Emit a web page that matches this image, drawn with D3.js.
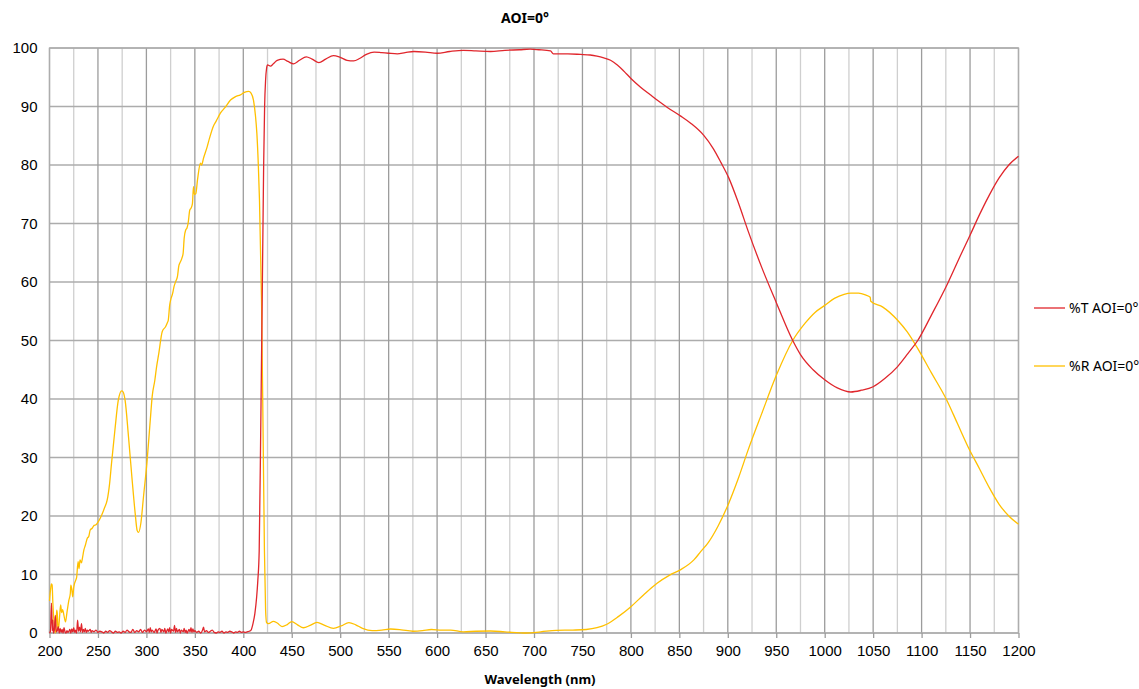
<!DOCTYPE html>
<html>
<head>
<meta charset="utf-8">
<script src="https://cdn.jsdelivr.net/npm/d3@7"></script>
<style>
  html, body { margin: 0; padding: 0; background: #fff; }
  svg { display: block; font-family: "Noto Sans", "Open Sans", sans-serif; }
  .tick text { fill: #000; }
</style>
</head>
<body>
<svg id="chart" width="1139" height="689"></svg>
<script>
// ── data ──────────────────────────────────────────────────────
const xTicks = [200, 250, 300, 350, 400, 450, 500, 550, 600, 650, 700, 750, 800, 850, 900, 950, 1000, 1050, 1100, 1150, 1200];
const yTicks = [0, 10, 20, 30, 40, 50, 60, 70, 80, 90, 100];
const seriesNames = ["%T AOI=0°", "%R AOI=0°"];

// %T : [wavelength nm, percent]
const transmission = [
  [200,0],[201,0.3],[202,5.1],[203,0.4],[203.5,2.2],[204,0],[205,0.5],[206,3.0],[207,0.2],[208,0.4],[209,1.1],[210,0],
  [211,0.8],[212,0.1],[213,0.6],[214,0],[215,0.9],[216,0.2],[217,0],[218,0.4],[219,0.1],[220,0.3],[221,0.6],[222,0],
  [223,0.7],[224,0.2],[225,0.9],[226,0.1],[227,0.5],[228,0],[229,2.2],[230,0.3],[231,1.0],[232,0.2],[233,1.6],[234,0.1],
  [235,0.6],[236,0.2],[237,0.8],[238,0.1],[239,0.5],[240,0.3],[242,0.6],[243,0.1],[244,0.4],[246,0.2],[248,0.5],[250,0.1],
  [252,0.3],[254,0.2],[256,0],[258,0.3],[260,0.1],[262,0.4],[264,0.2],[266,0],[268,0.3],[270,0.1],[272,0.2],[274,0],
  [276,0.3],[278,0.1],[280,0.5],[282,0.2],[284,0.1],[286,0.6],[288,0.1],[290,0.4],[292,0.2],[294,0.6],[296,0.1],[298,0.5],
  [300,0.2],[302,0.7],[303,0.1],[304,0.9],[305,0.2],[306,0.5],[308,0.1],[310,0.7],[311,0],[312,0.5],[314,0.8],[315,0.1],
  [316,0.6],[318,0.2],[319,0.8],[320,0],[322,0.7],[323,0.2],[324,0.9],[325,0],[326,0.6],[328,0.3],[329,1.3],[330,0.1],
  [331,0.8],[332,0.2],[334,0.6],[335,0],[336,0.5],[338,0.2],[339,0.8],[340,0.1],[341,0.5],[342,0],[344,0.6],[345,0.2],
  [346,0.9],[347,0.1],[348,0.7],[349,0.2],[350,0.4],[352,0.1],[354,0.3],[356,0],[358,0.5],[359,1.0],[360,0.2],[362,0.4],
  [364,0.1],[366,0.3],[368,0.5],[370,0.1],[372,0],[374,0.2],[376,0.1],[378,0.3],[380,0],[382,0.2],[384,0.1],[386,0.3],
  [388,0.2],[390,0],[392,0.2],[394,0.1],[396,0.3],[398,0.1],[400,0.2],[402,0.1],[404,0.2],[406,0.3],[408,0.5],[410,1.6],
  [412,3.4],[413.8,6.2],[415,9],[416.4,14],[418,35],[419.5,57],[421,80],[422,90],[423,94.5],[424,96.5],[425,97.1],
  [428,96.9],[431,97.3],[435,97.9],[441,98.1],[446,97.7],[452,97.3],[458,97.9],[465,98.5],[471,98.1],[478,97.5],
  [485,98.1],[493,98.7],[500,98.4],[507,97.9],[514,97.8],[520,98.2],[527,98.9],[535,99.3],[543,99.2],[550,99.1],
  [559,99.0],[567,99.2],[576,99.4],[588,99.3],[600,99.1],[613,99.4],[627,99.6],[640,99.5],[655,99.4],[670,99.6],
  [685,99.7],[696,99.8],[705,99.7],[717,99.5],[720,99.0],[735,99.0],[748,98.9],[758,98.8],[765,98.6],[772,98.3],
  [779,97.9],[786,97.1],[793,96.0],[800,94.8],[810,93.3],[820,92.0],[827,91.1],[838,89.8],[851,88.4],[862,87.1],
  [875,85.1],[885,82.8],[893,80.4],[901,77.8],[911,73.5],[921,68.7],[935,62.5],[950,56.5],[967,50],[975,47.6],
  [988,45],[1000,43.3],[1013,41.9],[1027,41.2],[1038,41.5],[1050,42.1],[1062,43.5],[1075,45.5],[1086,47.8],
  [1096,50],[1110,54.3],[1127,59.8],[1140,64.5],[1150,68.0],[1160,71.6],[1170,74.9],[1180,77.8],[1190,80.0],[1200,81.5]
];

// %R : [wavelength nm, percent]
const reflection = [
  [200,5.5],[201,7.3],[202,8.4],[202.7,8.2],[203.5,5],[204,3.4],[205,1.5],[206,0],[207,2.5],[207.5,3.9],[208,3.4],
  [208.7,0.5],[209.5,1.0],[210.5,3.0],[211.5,4.8],[212.5,3.5],[213.5,4.0],[214.8,3.1],[216.5,1.9],[218,3.5],[220,5.6],
  [221.5,6.8],[222,8.2],[223,7.5],[224,6.2],[225,7.8],[227,9.0],[228,9.5],[229.5,12.2],[230.5,11.0],[231.5,12.5],
  [233,12.0],[234,12.8],[235.5,14.2],[237,15],[239,16.2],[240.5,16.5],[242,17.6],[244,17.9],[246,18.4],[248,18.5],
  [249,18.7],[251,19.2],[254,20.2],[257,21.5],[259.5,22.7],[262,25.5],[264,29],[267.5,34.7],[271,39.8],[274.5,41.4],
  [276,41.2],[278,39.8],[281.5,33.6],[285,26.7],[288.4,20.5],[290.5,17.5],[291.9,17.2],[294.3,18.8],[297,23.3],
  [300.5,29],[304,36.4],[306,40.5],[308.7,43.2],[310.5,45.5],[312.8,47.8],[316.3,51.5],[319.9,52.4],[321.5,53.0],
  [322.6,53.5],[324,56.0],[325,56.9],[327,58.0],[328.5,59.2],[330.5,60.2],[332,60.9],[333.5,62.8],[334.4,63.2],
  [336.5,64.0],[337.9,64.9],[339,67.5],[340.6,68.9],[341.8,69.2],[343,70],[344.8,72.3],[346,72.6],[347.5,73.4],
  [348.6,76.3],[349.5,75],[351,75.1],[352.7,77.4],[355.8,80.3],[357,80.0],[359,81.2],[362.7,83.1],[365,84.5],
  [369,86.6],[372,87.5],[376.5,88.9],[381,89.8],[386.8,91.1],[392,91.7],[397,92.0],[401,92.4],[405.6,92.6],
  [408,92.3],[410.5,91.1],[412.5,88.5],[414,85.4],[415.5,80],[416.7,74],[418.8,57],[420.5,33],[421.8,14.2],[423,4],
  [424,1.8],[426,1.6],[431,2.0],[435,1.7],[440,1.1],[445,1.4],[450,1.95],[456,1.4],[462,0.9],[469,1.3],[476,1.8],
  [484,1.3],[493,0.8],[501,1.2],[509,1.77],[516,1.4],[523,0.8],[533,0.4],[543,0.5],[552,0.68],[563,0.55],[575,0.3],
  [585,0.4],[594,0.6],[605,0.5],[614,0.5],[627,0.2],[640,0.3],[655,0.34],[670,0.2],[692,0],[707,0.2],[723,0.45],
  [740,0.5],[754,0.6],[765,0.9],[775,1.5],[787,2.8],[800,4.5],[813,6.5],[827,8.5],[840,9.9],[851,10.8],[865,12.5],
  [872,13.9],[880,15.5],[890,18.3],[901,22.2],[911,26.5],[921,31.3],[935,37.5],[950,44],[967,50],[980,53],[990,54.8],
  [1000,56],[1010,57.2],[1020,57.9],[1027,58.1],[1035,58.1],[1042,57.8],[1047,57.4],[1047.5,56.7],[1060,55.7],
  [1075,53.5],[1085,51.5],[1095,48.9],[1110,44.5],[1126,39.8],[1137,35.8],[1148,31.8],[1160,28.0],[1170,24.8],
  [1180,22.0],[1190,20.0],[1200,18.6]
];

// ── layout ─────────────────────────────────────────────────────
const COLORS = ["#e0262c", "#ffc000"];
const margin = { left: 49.5, right: 1018.5, top: 48, bottom: 633 };

const svg = d3.select("#chart");
const x = d3.scaleLinear().domain([200, 1200]).range([margin.left, margin.right]);
const y = d3.scaleLinear().domain([0, 100]).range([margin.bottom, margin.top]);

// grid: minor vertical every 25 nm, major every 50 nm
const minorX = d3.range(225, 1200, 50);
svg.append("g").selectAll("line").data(minorX).join("line")
  .attr("x1", d => x(d)).attr("x2", d => x(d))
  .attr("y1", margin.top).attr("y2", margin.bottom)
  .attr("stroke", "#cfcfcf").attr("stroke-width", 1.3);

svg.append("g").selectAll("line").data(yTicks).join("line")
  .attr("x1", margin.left).attr("x2", margin.right)
  .attr("y1", d => y(d)).attr("y2", d => y(d))
  .attr("stroke", "#acacac").attr("stroke-width", 1.3);

svg.append("g").selectAll("line").data(xTicks).join("line")
  .attr("x1", d => x(d)).attr("x2", d => x(d))
  .attr("y1", margin.top).attr("y2", margin.bottom)
  .attr("stroke", "#9c9c9c").attr("stroke-width", 1.3);

svg.append("rect")
  .attr("x", margin.left).attr("y", margin.top)
  .attr("width", margin.right - margin.left).attr("height", margin.bottom - margin.top)
  .attr("fill", "none").attr("stroke", "#adadad").attr("stroke-width", 1.3);

// axes (labels only, Excel style)
const xAxis = svg.append("g").attr("transform", `translate(0,${margin.bottom})`)
  .call(d3.axisBottom(x).tickValues(xTicks).tickSize(5).tickPadding(7).tickFormat(d3.format("d")));
xAxis.select(".domain").remove();
xAxis.selectAll(".tick line").attr("stroke", "#9c9c9c").attr("stroke-width", 1.3);
xAxis.selectAll("text").style("font-size", "15px");

const yAxis = svg.append("g").attr("transform", `translate(${margin.left},0)`)
  .call(d3.axisLeft(y).tickValues(yTicks).tickSize(0).tickPadding(12).tickFormat(d3.format("d")));
yAxis.select(".domain").remove();
yAxis.selectAll("text").style("font-size", "15px");

// curves
const line = d3.line().x(d => x(d[0])).y(d => y(d[1])).curve(d3.curveMonotoneX);
[reflection, transmission].forEach((s, i) => {
  svg.append("path").datum(s)
    .attr("d", line)
    .attr("fill", "none")
    .attr("stroke", i === 0 ? COLORS[1] : COLORS[0])
    .attr("stroke-width", 1.3)
    .attr("stroke-linejoin", "round");
});

// titles
svg.append("text").attr("x", 525).attr("y", 23).attr("text-anchor", "middle")
  .style("font-size", "14px").style("font-weight", "bold").text("AOI=0°");
svg.append("text").attr("x", 540).attr("y", 684).attr("text-anchor", "middle")
  .style("font-size", "13px").style("font-weight", "bold").text("Wavelength (nm)");

// legend
const legend = svg.append("g").selectAll("g").data(seriesNames).join("g")
  .attr("transform", (d, i) => `translate(1034,${308 + i * 58})`);
legend.append("line").attr("x1", 0).attr("x2", 31).attr("y1", 0).attr("y2", 0)
  .attr("stroke", (d, i) => COLORS[i]).attr("stroke-width", 1.3);
legend.append("text").attr("x", 35).attr("y", 0).attr("dy", "0.35em")
  .style("font-size", "14px").text(d => d);
</script>
</body>
</html>
